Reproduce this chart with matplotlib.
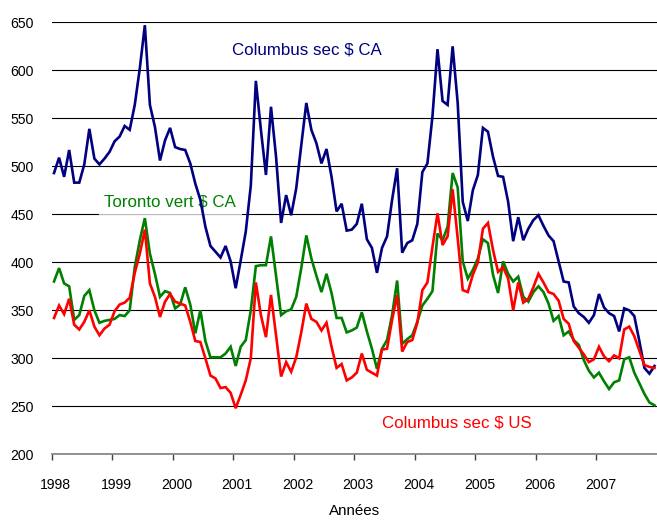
import numpy as np
import matplotlib
matplotlib.use("Agg")
import matplotlib.pyplot as plt
from matplotlib import font_manager
from matplotlib.transforms import ScaledTranslation

# Monthly prices, January 1998 to December 2007
columbus_ca = [
    493, 509, 489, 517, 483, 483, 502, 539, 508, 502, 508, 515,
    526, 531, 542, 538, 564, 602, 647, 564, 541, 506, 527, 540,
    520, 518, 517, 503, 482, 465, 437, 417, 411, 405, 417, 401,
    373, 402, 432, 480, 589, 538, 491, 562, 510, 441, 470, 449,
    477, 522, 566, 538, 524, 503, 518, 489, 453, 461, 433, 434,
    440, 461, 424, 415, 389, 415, 427, 465, 498, 410, 420, 423,
    440, 494, 503, 552, 622, 568, 564, 625, 566, 463, 443, 475,
    491, 540, 536, 510, 490, 489, 463, 422, 447, 423, 435, 444,
    449, 438, 428, 422, 401, 380, 379, 354, 347, 343, 337, 345,
    367, 353, 347, 344, 328, 352, 350, 344, 318, 290, 284, 292,
]
toronto_ca = [
    380, 394, 378, 375, 340, 345, 365, 371, 350, 337, 339, 340,
    341, 345, 344, 350, 395, 423, 446, 409, 388, 364, 370, 368,
    352, 356, 374, 356, 326, 350, 318, 301, 301, 301, 305, 312,
    292, 312, 319, 350, 396, 397, 397, 427, 386, 345, 349, 351,
    364, 394, 428, 404, 386, 369, 388, 368, 342, 342, 327, 329,
    332, 348, 328, 310, 289, 310, 319, 345, 381, 315, 320, 324,
    338, 355, 362, 370, 430, 423, 437, 493, 478, 401, 383, 392,
    404, 424, 420, 387, 368, 401, 388, 380, 385, 364, 359, 369,
    375, 369, 357, 339, 344, 324, 328, 319, 314, 298, 287, 280,
    285, 276, 268, 275, 277, 299, 301, 285, 274, 263, 254, 251,
]
columbus_us = [
    342, 355, 346, 362, 335, 330, 338, 350, 333, 324, 331, 335,
    349, 356, 358, 363, 389, 409, 434, 378, 364, 343, 359, 367,
    359, 357, 355, 338, 318, 317, 300, 282, 279, 269, 270, 264,
    248, 262, 277, 300, 379, 345, 322, 366, 324, 281, 296, 286,
    301, 327, 357, 341, 338, 329, 337, 312, 290, 294, 277, 280,
    285, 305, 288, 285, 282, 309, 310, 340, 366, 307, 317, 319,
    337, 371, 379, 416, 451, 418, 427, 476, 425, 371, 369, 387,
    400, 435, 441, 413, 390, 395, 383, 350, 379, 358, 362, 374,
    388, 379, 369, 367, 360, 341, 336, 318, 311, 304, 296, 299,
    312, 302, 297, 303, 300, 330, 333, 323, 308, 293, 291, 290,
]
years = list(range(1998, 2008))
series_names = ["Columbus sec $ CA", "Toronto vert $ CA", "Columbus sec $ US"]
series_colors = ["#000080", "#008000", "#FF0000"]

# Condensed face when available
installed = {f.name for f in font_manager.fontManager.ttflist}
if "Liberation Sans Narrow" in installed:
    fam, k = "Liberation Sans Narrow", 1.0
else:
    fam, k = "Liberation Sans", 0.84
plt.rcParams["font.family"] = [fam, "DejaVu Sans"]

W, H = 657, 523
fig = plt.figure(figsize=(W / 100, H / 100), dpi=100)
left, right, top, bottom = 51.5, 657, 22.3, 454.3
ax = fig.add_axes([left / W, 1 - bottom / H, (right - left) / W, (bottom - top) / H])

n = len(columbus_ca)
x = 1998 + (np.arange(n) + 0.5) / 12.0

for vals, col in zip([columbus_ca, toronto_ca, columbus_us], series_colors):
    ax.plot(x, vals, color=col, lw=1.9, solid_joinstyle="miter", zorder=3)

ax.set_xlim(1998, 2008)
ax.set_ylim(200, 650)
ax.set_yticks(np.arange(200, 651, 50))
ax.set_xticks(years)
ax.set_xticklabels([str(y) for y in years])

ax.yaxis.grid(True, color="black", lw=0.8)
ax.set_axisbelow(True)
for s in ["left", "right", "top"]:
    ax.spines[s].set_visible(False)
ax.spines["bottom"].set_color("#808080")
ax.spines["bottom"].set_linewidth(1.2)

ax.tick_params(axis="y", length=0, pad=13, labelsize=12 * k, colors="black")
ax.tick_params(axis="x", length=4, width=1, color="#404040", direction="out",
               pad=13, labelsize=12 * k)
for lbl in ax.get_xticklabels():
    lbl.set_transform(lbl.get_transform() + ScaledTranslation(4 / 100, 0, fig.dpi_scale_trans))

ax.set_xlabel("Années", fontsize=13 * k, labelpad=9)

box = dict(facecolor="white", edgecolor="none", alpha=0.75, pad=4)
ax.text(2002.22, 621, series_names[0], color=series_colors[0], fontsize=14.5 * k,
        ha="center", va="center", bbox=box, zorder=2)
ax.text(1999.96, 463, series_names[1], color=series_colors[1], fontsize=14.5 * k,
        ha="center", va="center", bbox=box, zorder=2)
ax.text(2004.70, 232.6, series_names[2], color=series_colors[2], fontsize=14.5 * k,
        ha="center", va="center", bbox=box, zorder=2)

fig.savefig("out.png", dpi=100)
